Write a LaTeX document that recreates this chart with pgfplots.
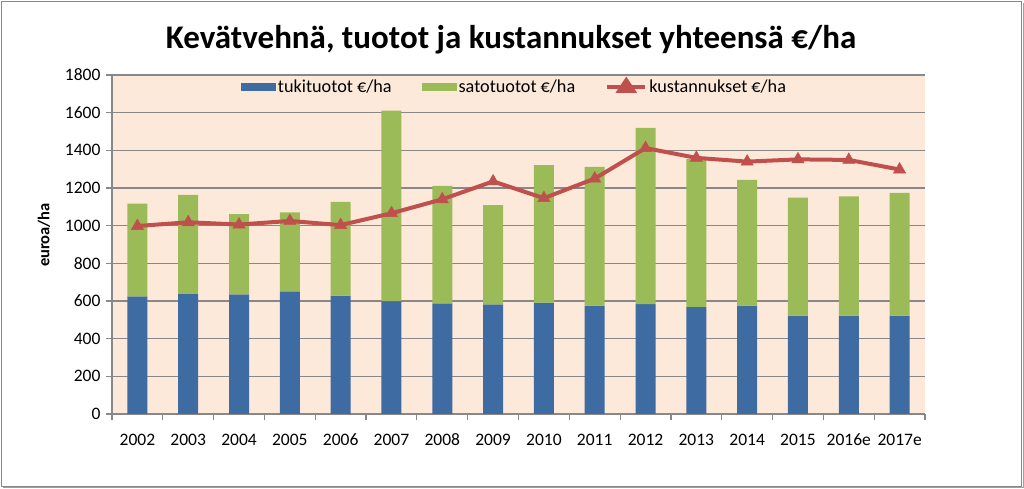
\documentclass[border=0pt]{standalone}
\usepackage{fontspec}
\setmainfont{Carlito}
\usepackage{pgfplots}
\pgfplotsset{compat=1.18}
\definecolor{cblue}{HTML}{3F6BA3}
\definecolor{cgreen}{HTML}{9BBB59}
\definecolor{cred}{HTML}{C0504D}
\definecolor{cbg}{HTML}{FDE9D9}
\definecolor{cgrid}{HTML}{888888}
\begin{document}
\begin{tikzpicture}[x=1pt,y=1pt]
\useasboundingbox (0,0) rectangle (1024,489);
\fill[white] (0,0) rectangle (1024,489);
\draw[cgrid, line width=1.6pt] (1.5,2.5) rectangle (1021.5,487.5);
\draw[cgrid!80, line width=1pt] (1023,1) -- (1023,486);
\draw[cgrid!80, line width=1pt] (3,1) -- (1023,1);
\node[font=\bfseries\fontsize{33}{38}\selectfont] at (511,449) {Kevätvehnä, tuotot ja kustannukset yhteensä €/ha};
\begin{axis}[
  at={(112pt,75pt)}, anchor=south west,
  width=813pt, height=339pt, scale only axis,
  xmin=-0.5, xmax=15.5, ymin=0, ymax=1800,
  ytick={0,200,...,1800},
  xtick={-0.5,0.5,...,15.5},
  x tick label as interval,
  xticklabels={2002,2003,2004,2005,2006,2007,2008,2009,2010,2011,2012,2013,2014,2015,2016e,2017e},
  axis lines*=left,
  axis line style={cgrid, line width=1.2pt},
  tick style={cgrid, line width=1.2pt},
  tick align=outside,
  major tick length=6pt,
  ymajorgrids,
  grid style={cgrid, line width=1.2pt},
  axis background/.style={fill=cbg},
  ticklabel style={font=\fontsize{17.5}{20}\selectfont},
  yticklabel style={xshift=-2pt},
  xticklabel style={anchor=center, text height=12pt, text depth=0pt, yshift=-20pt},
  /pgf/number format/assume math mode=true,
  /pgf/number format/1000 sep={},
  ylabel={\bfseries euroa/ha},
  ylabel style={font=\fontsize{16.5}{20}\selectfont, at={(axis description cs:-0.0836,0.528)}, anchor=center},
  legend columns=3,
  legend style={draw=none, fill=none, at={(0.5,1)}, anchor=north, yshift=-1pt, xshift=-4pt,
    font=\fontsize{18.2}{21}\selectfont,
    /tikz/every even column/.append style={column sep=28pt}},
  legend cell align=left,
]
\addplot[ybar stacked, bar width=20pt, fill=cblue, draw=none,
  legend image code/.code={\fill[cblue] (0pt,-4pt) rectangle (35pt,4pt);}]
  coordinates {(0,624) (1,638) (2,635) (3,651) (4,628) (5,599) (6,587) (7,582) (8,592) (9,576) (10,583) (11,569) (12,576) (13,522) (14,522) (15,522)};
\addlegendentry{tukituotot €/ha}
\addplot[ybar stacked, bar width=20pt, fill=cgreen, draw=none,
  legend image code/.code={\fill[cgreen] (0pt,-4pt) rectangle (35pt,4pt);}]
  coordinates {(0,493) (1,525) (2,426) (3,420) (4,498) (5,1012) (6,624) (7,527) (8,730) (9,736) (10,936) (11,786) (12,667) (13,627) (14,633) (15,652)};
\addlegendentry{satotuotot €/ha}
\addplot[cred, line width=4pt, mark=triangle*, mark size=7pt, mark options={line width=0.5pt},
  legend image code/.code={\draw[cred, line width=4pt] (0pt,0pt) -- (38pt,0pt); \fill[cred] (19pt,7pt) -- (26pt,-3.5pt) -- (12pt,-3.5pt) -- cycle;}]
  coordinates {(0,998) (1,1018) (2,1006) (3,1025) (4,1003) (5,1066) (6,1140) (7,1235) (8,1146) (9,1250) (10,1412) (11,1360) (12,1340) (13,1352) (14,1349) (15,1298)};
\addlegendentry{kustannukset €/ha}
\end{axis}
\end{tikzpicture}
\end{document}
